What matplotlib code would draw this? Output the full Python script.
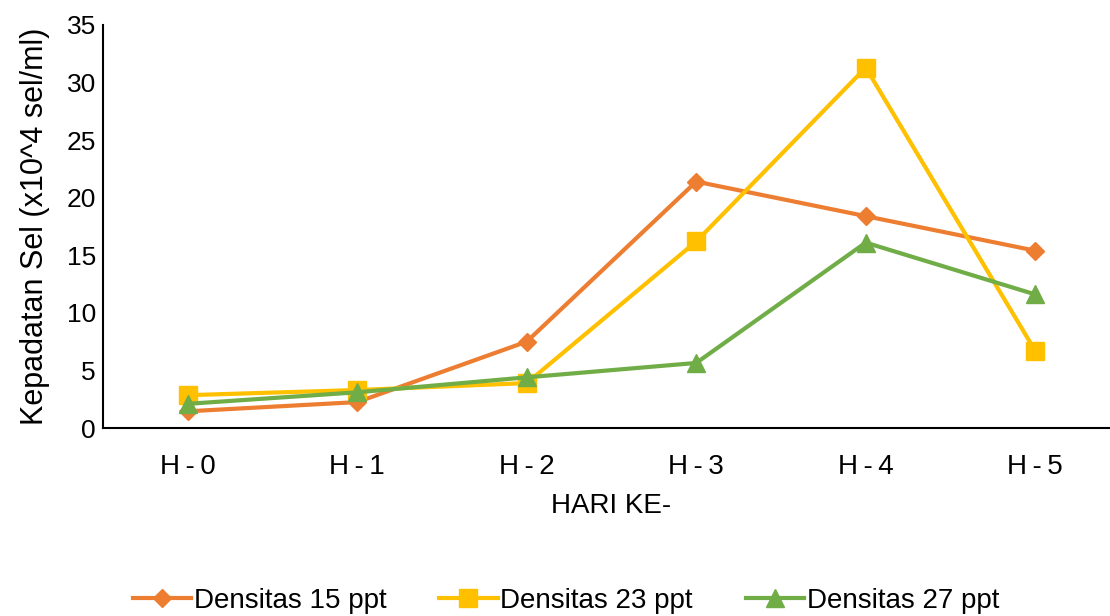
import numpy as np
import matplotlib
matplotlib.use("Agg")
import matplotlib.pyplot as plt

plt.rcParams['font.family'] = ['Liberation Sans', 'DejaVu Sans']

## == data ==
days = ['H\u2009-\u20090', 'H\u2009-\u20091', 'H\u2009-\u20092',
        'H\u2009-\u20093', 'H\u2009-\u20094', 'H\u2009-\u20095']
dens_15 = [1.45, 2.25, 7.5, 21.4, 18.4, 15.4]
dens_23 = [2.85, 3.3, 3.9, 16.2, 31.3, 6.7]
dens_27 = [2.1, 3.1, 4.4, 5.65, 16.1, 11.6]

series = [('Densitas 15 ppt', dens_15, '#ED7D31', 'D', 9),
          ('Densitas 23 ppt', dens_23, '#FFC000', 's', 12.5),
          ('Densitas 27 ppt', dens_27, '#70AD47', '^', 12.5)]

fig = plt.figure(figsize=(11.1, 6.16), dpi=100)
ax = fig.add_axes([103/1110, 188/616, 1017/1110, 403/616])

x = np.arange(len(days))
for name, vals, col, mk, ms in series:
    ax.plot(x, vals, color=col, lw=3, marker=mk, ms=ms, label=name)

ax.set_xlim(-0.5, 5.5)
ax.set_ylim(0, 35)
ax.set_yticks(range(0, 36, 5))
ax.set_xticks(x)
ax.set_xticklabels(days)
ax.tick_params(axis='y', length=0, labelsize=19, pad=5)
ax.tick_params(axis='x', length=0, labelsize=20, pad=19)
for s in ['top', 'right']:
    ax.spines[s].set_visible(False)
for s in ['left', 'bottom']:
    ax.spines[s].set_linewidth(1.5)
ax.set_xlabel('HARI KE-', fontsize=20, labelpad=9)
ax.set_ylabel('Kepadatan Sel (x10^4 sel/ml)', fontsize=22, labelpad=12)

fig.legend(loc='center', bbox_to_anchor=(566/1110, 1 - 601/616), ncol=3,
           frameon=False, fontsize=20, handlelength=2.1, columnspacing=1.9,
           handletextpad=0.1, borderaxespad=0)

fig.savefig('out.png', dpi=100)
